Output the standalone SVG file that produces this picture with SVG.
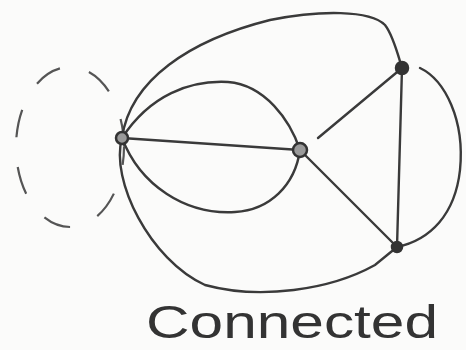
<svg xmlns="http://www.w3.org/2000/svg" width="466" height="350" viewBox="0 0 466 350">
<style>
.e{fill:none;stroke:#3a3a3a;stroke-width:2.4;stroke-linecap:round}
.d{fill:none;stroke:#555;stroke-width:2.2;stroke-dasharray:28 30}
.n{fill:#9a9a9a;stroke:#333;stroke-width:2.5}
.f{fill:#333}
.t{font-family:"Liberation Sans",Arial,sans-serif;font-size:46px;fill:#333}
</style>
<rect width="466" height="350" fill="#fbfbfa"/>
<ellipse class="d" cx="70" cy="147" rx="54" ry="80" stroke-dashoffset="10"/>
<g id="connectors">
<path class="e" d="M122,138 L300,150"/>
<path class="e" d="M122,138 C150,95 190,80 228,82 C265,85 290,120 300,150"/>
<path class="e" d="M122,138 C140,185 185,215 235,212 C270,210 295,185 300,150"/>
<path class="e" d="M122,138 C130,80 190,40 270,20 C320,10 370,10 385,25 C393,35 398,55 402,68"/>
<path class="e" d="M122,138 C110,180 150,260 205,285 C260,300 330,290 375,265 L397,247"/>
<path class="e" d="M318,138 L402,68"/>
<path class="e" d="M300,150 L397,247"/>
<path class="e" d="M402,68 L397,247"/>
<path class="e" d="M420,68 C445,80 465,120 460,170 C455,215 430,240 397,247"/>
</g>
<g id="nA"><circle class="n" cx="122" cy="138" r="6"/></g>
<g id="nB"><circle class="n" cx="300" cy="150" r="7"/></g>
<g id="nC"><circle class="n f" cx="402" cy="68" r="6"/></g>
<g id="nD"><circle class="n f" cx="397" cy="247" r="5"/></g>
<text class="t" x="146" y="338" textLength="292" lengthAdjust="spacingAndGlyphs">Connected</text>
</svg>
